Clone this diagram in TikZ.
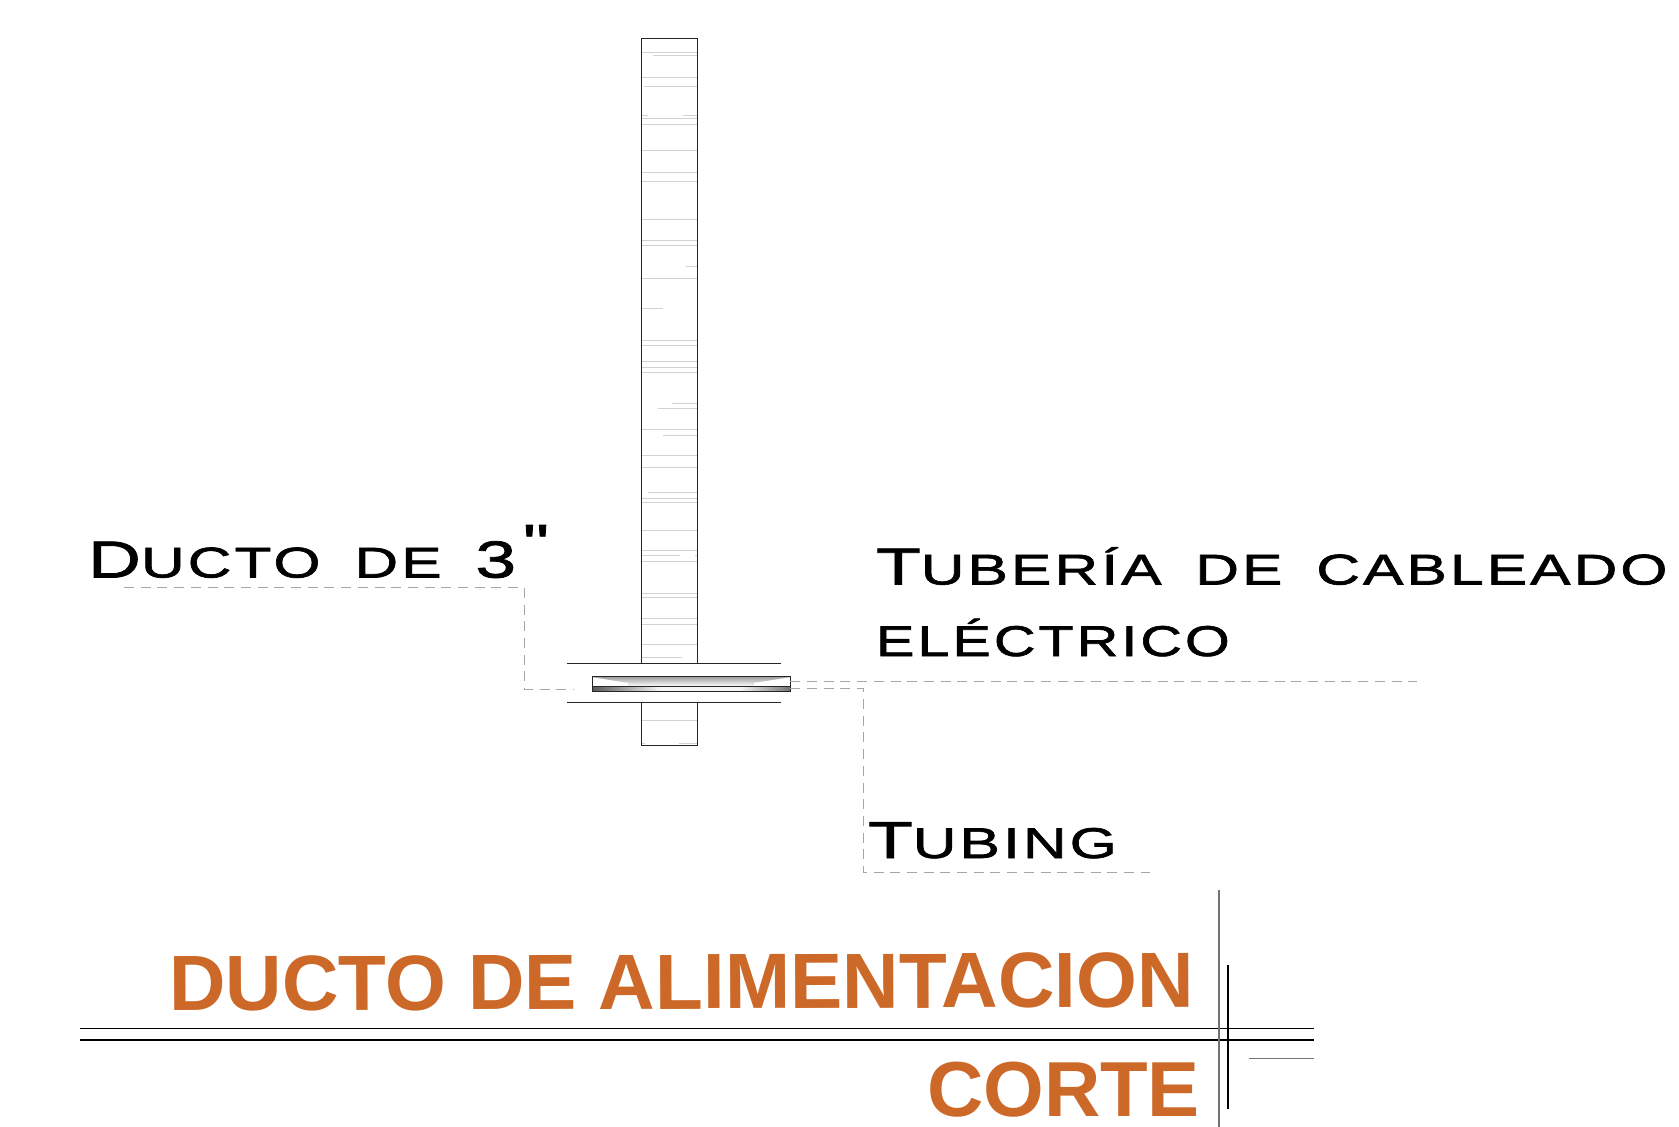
\documentclass[tikz,border=0pt]{standalone}
\usepackage{fontspec}
\setmainfont{Liberation Sans}
\newfontfamily\labfont[FakeStretch=1.41,LetterSpace=7,WordSpace=1.7,FakeBold=1.5]{Liberation Sans}
\newfontfamily\labnarrow[FakeStretch=1.34,LetterSpace=7,FakeBold=1.5]{Liberation Sans}
\newfontfamily\titlefont{Liberation Sans}
\definecolor{titleorange}{HTML}{CC6828}
\definecolor{leadgray}{HTML}{A6A6A6}
\definecolor{hatchgray}{HTML}{D2D2D2}
\newcommand{\lgcap}[1]{{\fontsize{52}{52}\selectfont #1}}
\newcommand{\smcap}[1]{{\fontsize{43}{43}\selectfont #1}}
\tikzset{
  x=1pt,y=-1pt,
  wall/.style={draw=black!85,line width=0.9pt},
  hatch/.style={draw=hatchgray,line width=1pt},
  leader/.style={draw=leadgray,line width=0.8pt,dash pattern=on 10pt off 6.7pt},
  lab/.style={anchor=base west,inner sep=0pt,outer sep=0pt,text=black},
  headline/.style={anchor=base east,inner sep=0pt,outer sep=0pt,text=titleorange,
     font=\titlefont\bfseries\fontsize{78}{78}\selectfont},
  rulex/.style={draw=black,line width=0.9pt},
}
\begin{document}
\begin{tikzpicture}
\useasboundingbox (0,0) rectangle (1679,1127);
% hatching in the column
\foreach \y in {52.3,77.3,118.3,124.3,150.3,172,181.7,219.3,240.7,245,278,345,340,361.7,367,372,429.3,455.3,467,498.7,502.7,530.3,550.3,561.7,593.7,597,618,624.7,644.3,720.3}
  \draw[hatch] (641.3,\y) -- (697.3,\y);
\foreach \y/\a/\b in {55/653.3/697.3,86.7/644/697.3,115.3/641.3/648.3,115.3/682.7/697.3,266.3/686/697.3,308.3/641.3/663.3,340.3/641.3/672.7,403.3/672.3/697.3,408.3/658.3/697.3,435.3/662.7/697.3,492.3/648.3/697.3,555.3/641.3/680,555.3/695/697.3,657/641.3/682,743.5/641.3/645,743.5/679/697.3}
  \draw[hatch] (\a,\y) -- (\b,\y);
% column, as two parts
\draw[wall] (641.3,663.7) -- (641.3,38.7) -- (697.3,38.7) -- (697.3,663.7);
\draw[wall] (641.3,702.7) -- (641.3,745.7) -- (697.3,745.7) -- (697.3,702.7);
\draw[wall] (567.3,663.7) -- (781.3,663.7);
\draw[wall] (567.3,702.7) -- (781.3,702.7);
% duct
\shade[top color=black!38,bottom color=white] (592.3,676.7) rectangle (790.3,686.3);
\fill[white] (592.3,677.2) -- (628,683) -- (628,686.3) -- (592.3,686.3) -- cycle;
\fill[white] (790.3,677.2) -- (754,683) -- (754,686.3) -- (790.3,686.3) -- cycle;
\shade[left color=black!65,right color=black!4] (592.3,686.3) rectangle (660,691.3);
\fill[black!4] (660,686.3) rectangle (740,691.3);
\shade[left color=black!4,right color=black!55] (740,686.3) rectangle (790.3,691.3);
\draw[wall,line width=1.3pt] (592.3,676.7) rectangle (790.3,691.3);
\draw[wall,line width=1.3pt] (592.3,686.3) -- (790.3,686.3);
% labels
\node[lab] (ducto) at (88,577.5) {\labfont\lgcap{D}\smcap{UCTO DE }\lgcap{3}};
\node[lab,anchor=north west] (inch) at (523,525) {\labfont\fontsize{52}{52}\selectfont"};
\node[lab] (tuberia) at (876,584.5) {\labfont\lgcap{T}\smcap{UBERÍA DE CABLEADO}};
\node[lab] (electrico) at (876,656) {\labnarrow\smcap{ELÉCTRICO}};
\node[lab] (tubing) at (868,858) {\labfont\lgcap{T}\smcap{UBING}};
\node[headline,rotate=0.22,font=\titlefont\bfseries\fontsize{78.4}{78.4}\selectfont] (title) at (1194,1007) {DUCTO DE ALIMENTACION};
\node[headline] (corte) at (1200,1116.5) {CORTE};
% leaders
\coordinate (l1) at (124,587.3);
\coordinate (l2) at (524.3,587.3);
\coordinate (l3) at (524.3,689.3);
\coordinate (l4) at (574,689.3);
\draw[leader] (l1) -- (l2) -- (l3) -- (l4);
\coordinate (r1) at (790.3,681.3);
\coordinate (r2) at (1417,681.3);
\draw[leader] (r1) -- (r2);
\coordinate (t1) at (790.3,688.7);
\coordinate (t2) at (863.5,688.7);
\coordinate (t3) at (863.5,872.7);
\coordinate (t4) at (1150,872.7);
\draw[leader] (t1) -- (t2) -- (t3) -- (t4);
% rules
\coordinate (a1) at (80,1028);
\coordinate (a2) at (1313.7,1028);
\coordinate (b1) at (80,1039.5);
\coordinate (b2) at (1313.7,1039.5);
\coordinate (c1) at (1249,1058.5);
\coordinate (c2) at (1313.7,1058.5);
\coordinate (v1) at (1219,890);
\coordinate (v2) at (1219,1127);
\coordinate (w1) at (1228.3,965.3);
\coordinate (w2) at (1228.3,1109.3);
\draw[rulex] (a1) -- (a2);
\draw[rulex,line width=2pt] (b1) -- (b2);
\draw[rulex,draw=black!55,line width=1.1pt] (c1) -- (c2);
\draw[rulex,draw=black!55,line width=1.2pt] (v1) -- (v2);
\draw[rulex,line width=1.8pt] (w1) -- (w2);
\end{tikzpicture}
\end{document}
